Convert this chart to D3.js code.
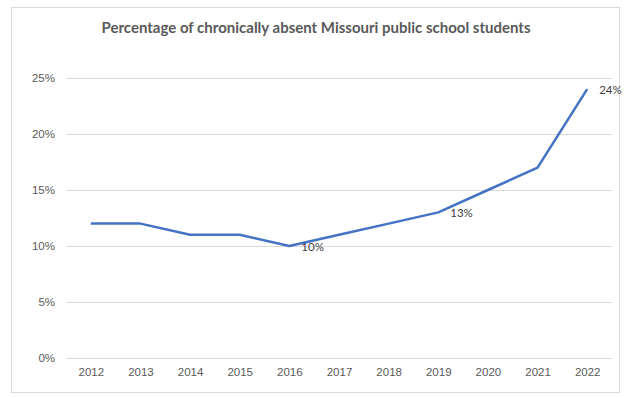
<!DOCTYPE html>
<html>
<head>
<meta charset="utf-8">
<script src="https://cdn.jsdelivr.net/npm/d3@7"></script>
<style>
  body { margin: 0; background: #fff; }
  svg { display: block; font-family: Lato, "Open Sans", sans-serif; }
</style>
</head>
<body>
<div id="chart"></div>
<script>
// data
const years = ["2012", "2013", "2014", "2015", "2016", "2017", "2018", "2019", "2020", "2021", "2022"];
const absentPct = [12, 12, 11, 11, 10, 11, 12, 13, 15, 17, 24];
const labelledYears = ["2016", "2019", "2022"];
const yTicks = [0, 5, 10, 15, 20, 25];

const width = 632;
const height = 398;
const margin = { top: 78, right: 20, bottom: 40, left: 66 };
const plotW = 612 - margin.left;
const plotH = 358 - margin.top;

const svg = d3.select("#chart").append("svg")
  .attr("width", width)
  .attr("height", height);

// outer chart border
svg.append("rect")
  .attr("x", 11.5).attr("y", 7.5)
  .attr("width", 608).attr("height", 385)
  .attr("fill", "#fff")
  .attr("stroke", "#d9d9d9");

svg.append("text")
  .attr("x", 316).attr("y", 33)
  .attr("text-anchor", "middle")
  .attr("font-size", 15)
  .attr("font-weight", "bold")
  .attr("fill", "#595959")
  .text("Percentage of chronically absent Missouri public school students");

const g = svg.append("g")
  .attr("transform", `translate(${margin.left},${margin.top})`);

const x = d3.scalePoint().domain(years).range([0, plotW]).padding(0.5);
const y = d3.scaleLinear().domain([0, 25]).range([plotH, 0]);

// gridlines
g.selectAll("line.grid").data(yTicks).enter().append("line")
  .attr("class", "grid")
  .attr("x1", 0).attr("x2", plotW)
  .attr("y1", d => Math.round(y(d)) + 0.5)
  .attr("y2", d => Math.round(y(d)) + 0.5)
  .attr("stroke", "#d9d9d9");

const yAxis = g.append("g")
  .call(d3.axisLeft(y).tickValues(yTicks).tickFormat(d => d + "%").tickSize(0).tickPadding(11));
yAxis.select(".domain").remove();
yAxis.selectAll("text").attr("font-size", 11.5).attr("fill", "#595959").attr("font-family", null);

const xAxis = g.append("g")
  .attr("transform", `translate(0,${plotH})`)
  .call(d3.axisBottom(x).tickSize(0).tickPadding(10));
xAxis.select(".domain").remove();
xAxis.selectAll("text").attr("font-size", 11.5).attr("fill", "#595959").attr("font-family", null);

const series = years.map((yr, i) => ({ year: yr, value: absentPct[i] }));

const line = d3.line()
  .x(d => x(d.year))
  .y(d => y(d.value));

g.append("path")
  .datum(series)
  .attr("fill", "none")
  .attr("stroke", "#4472c4")
  .attr("stroke-width", 2.5)
  .attr("stroke-linejoin", "round")
  .attr("d", line);

g.selectAll("text.lbl")
  .data(series.filter(d => labelledYears.includes(d.year)))
  .enter().append("text")
  .attr("class", "lbl")
  .attr("x", d => x(d.year) + 12)
  .attr("y", d => y(d.value) + 5)
  .attr("font-size", 11.5)
  .attr("fill", "#404040")
  .text(d => d.value + "%");
</script>
</body>
</html>
